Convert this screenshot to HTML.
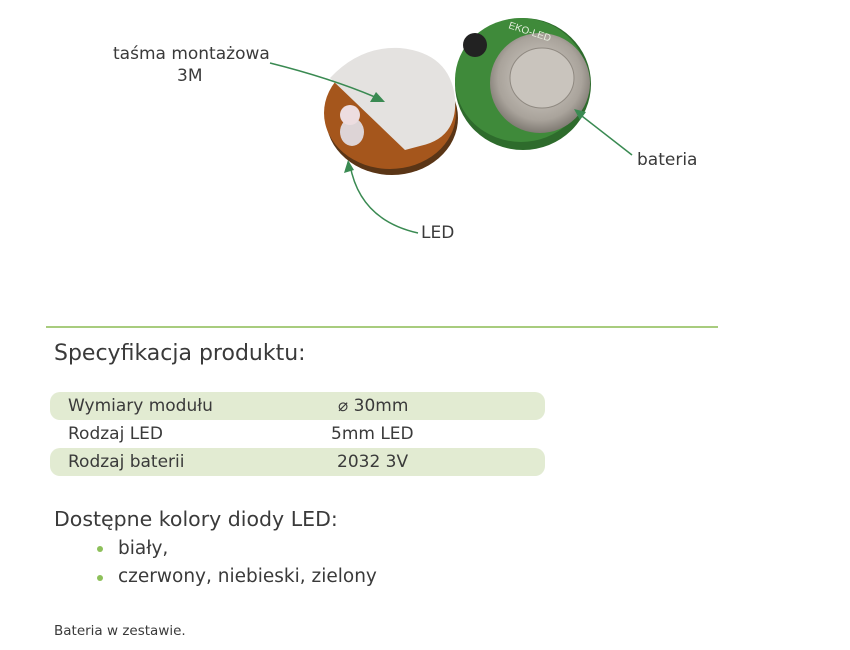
<!DOCTYPE html>
<html><head><meta charset="utf-8"><style>
body{margin:0;width:850px;height:650px;background:#fff;position:relative;overflow:hidden;font-family:"DejaVu Sans","Liberation Sans",sans-serif;color:#3a3a3a}
.t{position:absolute;white-space:nowrap}
</style></head><body>
<svg width="850" height="650" style="position:absolute;left:0;top:0">
<defs>
<radialGradient id="met" cx="0.5" cy="0.45" r="0.6"><stop offset="0" stop-color="#d8d3cc"/><stop offset="0.7" stop-color="#a9a39b"/><stop offset="1" stop-color="#6f6a63"/></radialGradient>
</defs>
<!-- left module -->
<ellipse cx="392" cy="118" rx="66" ry="57" fill="#5a3516"/>
<ellipse cx="390" cy="113" rx="66" ry="56" fill="#a5561c"/>
<path d="M330 78 Q360 46 400 48 Q450 53 455 98 Q458 138 420 146 L405 150 Z" fill="#e4e2e0"/>
<ellipse cx="352" cy="132" rx="12" ry="14" fill="#ddd4d6"/>
<ellipse cx="350" cy="115" rx="10" ry="10" fill="#eddde0"/>
<!-- right module -->
<ellipse cx="523" cy="84" rx="68" ry="66" fill="#2e6b2c"/>
<ellipse cx="521" cy="80" rx="66" ry="62" fill="#3f8a3a"/>
<ellipse cx="540" cy="83" rx="50" ry="50" fill="url(#met)"/>
<ellipse cx="542" cy="78" rx="32" ry="30" fill="#c9c4bd" stroke="#8f8981"/>
<ellipse cx="475" cy="45" rx="12" ry="12" fill="#222"/>
<text x="508" y="28" font-size="10" fill="#e8f0e0" font-family="Liberation Sans" transform="rotate(18 508 28)">EKO-LED</text>
<!-- arrows -->
<g stroke="#3a8a52" stroke-width="1.5" fill="none">
<path d="M270 63 Q330 78 375 97"/>
<path d="M418 233 Q360 220 350 165"/>
<path d="M632 155 Q600 130 578 113"/>
</g>
<g fill="#3a8a52">
<polygon points="385,102 370,102 376,92"/>
<polygon points="348,160 344,173 354,170"/>
<polygon points="574,109 586,112 580,120"/>
</g>
<line x1="46" y1="327" x2="718" y2="327" stroke="#a8cc7e" stroke-width="2"/>
<rect x="50" y="392" width="495" height="28" rx="10" fill="#e2ebd2"/>
<rect x="50" y="448" width="495" height="28" rx="10" fill="#e2ebd2"/>
<circle cx="100" cy="549" r="3" fill="#8dc05a"/>
<circle cx="100" cy="578" r="3" fill="#8dc05a"/>
</svg>
<div class="t" style="left:113px;top:44px;font-size:17px">taśma montażowa</div>
<div class="t" style="left:177px;top:66px;font-size:17px">3M</div>
<div class="t" style="left:637px;top:150px;font-size:17px">bateria</div>
<div class="t" style="left:421px;top:223px;font-size:17px">LED</div>
<div class="t" style="left:54px;top:341px;font-size:22px">Specyfikacja produktu:</div>
<div class="t" style="left:68px;top:396px;font-size:17px">Wymiary modułu</div>
<div class="t" style="left:338px;top:396px;font-size:17px">⌀ 30mm</div>
<div class="t" style="left:68px;top:424px;font-size:17px">Rodzaj LED</div>
<div class="t" style="left:331px;top:424px;font-size:17px">5mm LED</div>
<div class="t" style="left:68px;top:452px;font-size:17px">Rodzaj baterii</div>
<div class="t" style="left:337px;top:452px;font-size:17px">2032 3V</div>
<div class="t" style="left:54px;top:507px;font-size:20.5px">Dostępne kolory diody LED:</div>
<div class="t" style="left:118px;top:538px;font-size:18.5px">biały,</div>
<div class="t" style="left:118px;top:566px;font-size:18.5px">czerwony, niebieski, zielony</div>
<div class="t" style="left:54px;top:623px;font-size:13.5px">Bateria w zestawie.</div>
</body></html>
